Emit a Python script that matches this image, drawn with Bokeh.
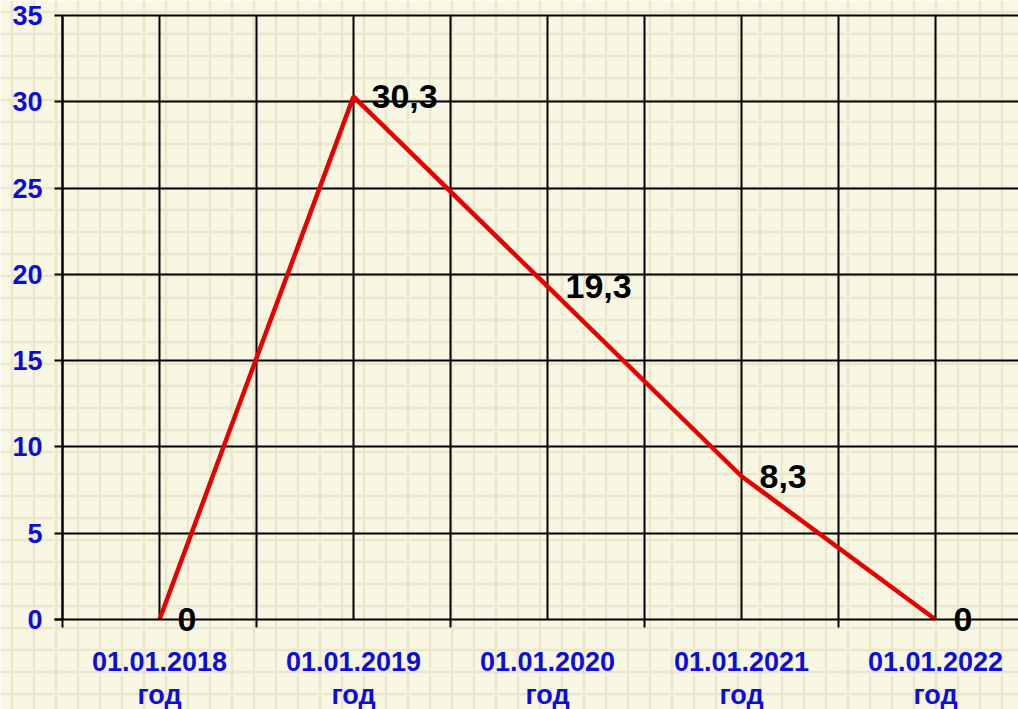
import numpy as np
from bokeh.plotting import figure
from bokeh.models import Range1d, FixedTicker, ColumnDataSource, BoxAnnotation
from bokeh.core.properties import value
from bokeh.embed import file_html
from bokeh.resources import INLINE

# ---- data ----
categories = ["01.01.2018\nгод", "01.01.2019\nгод", "01.01.2020\nгод",
              "01.01.2021\nгод", "01.01.2022\nгод"]
values = [0, 30.3, 19.3, 8.3, 0]
y_ticks = [0, 5, 10, 15, 20, 25, 30, 35]

xs = list(range(len(categories)))
labels = [f"{v:g}".replace(".", ",") for v in values]

BG = "#F8F7E3"
BLUE = "#0D0DDB"
W, H = 1018, 709
X0_PX, UNIT_X = 62, 194.0        # pixel of x=-0.5, pixels per category
Y0_PX, UNIT_Y = 619, 604 / 35.0  # pixel of y=0, pixels per unit

x_start = -0.5 - X0_PX / UNIT_X
x_end = -0.5 + (W - X0_PX) / UNIT_X
y_start = -(H - Y0_PX) / UNIT_Y
y_end = Y0_PX / UNIT_Y

p = figure(width=W, height=H, output_backend="svg", toolbar_location=None,
           x_range=Range1d(x_start, x_end), y_range=Range1d(y_start, y_end),
           min_border=0)
p.background_fill_color = BG
p.border_fill_color = BG
p.outline_line_color = None

# graph-paper texture (whole frame) as a hatch pattern
paper = BoxAnnotation(fill_alpha=0, line_alpha=0, hatch_pattern="+", hatch_scale=22,
                      hatch_weight=2.5, hatch_color="#EBE8C9", hatch_alpha=1.0,
                      level="underlay")
main_grids = list(p.center)
p.center = []
p.add_layout(paper)
for g in main_grids:
    p.add_layout(g)

# x axis, fixed at y = 0
p.xaxis.fixed_location = 0
p.xaxis.bounds = (-0.5 - 8 / UNIT_X, x_end)
p.xaxis.ticker = FixedTicker(ticks=xs, minor_ticks=[i - 0.5 for i in range(len(categories))])
p.xaxis.major_label_overrides = {i: c for i, c in enumerate(categories)}
p.xaxis.major_tick_out = 0
p.xaxis.major_tick_in = 0
p.xaxis.minor_tick_out = 8
p.xaxis.minor_tick_in = 0
p.xaxis.minor_tick_line_width = 2
p.xaxis.minor_tick_line_color = "black"
p.xaxis.axis_line_width = 2
p.xaxis.axis_line_color = "black"
p.xaxis.major_label_standoff = 19
p.xaxis.major_label_text_font = "Liberation Sans"
p.xaxis.major_label_text_font_style = "bold"
p.xaxis.major_label_text_font_size = "27px"
p.xaxis.major_label_text_color = BLUE
p.xaxis.major_label_text_line_height = 1.1

# y axis, fixed at x = -0.5
p.yaxis.fixed_location = -0.5
p.yaxis.bounds = (0, 35)
p.yaxis.ticker = FixedTicker(ticks=y_ticks, minor_ticks=[])
p.yaxis.major_tick_out = 8
p.yaxis.major_tick_in = 0
p.yaxis.major_tick_line_width = 2
p.yaxis.major_tick_line_color = "black"
p.yaxis.axis_line_width = 2
p.yaxis.axis_line_color = "black"
p.yaxis.major_label_standoff = 12
p.yaxis.major_label_text_font = "Liberation Sans"
p.yaxis.major_label_text_font_style = "bold"
p.yaxis.major_label_text_font_size = "27px"
p.yaxis.major_label_text_color = BLUE

# black grids
p.xgrid.ticker = FixedTicker(ticks=xs, minor_ticks=[i - 0.5 for i in range(len(categories))] + [4.5])
p.xgrid.grid_line_color = "black"
p.xgrid.grid_line_width = 2
p.xgrid.minor_grid_line_color = "black"
p.xgrid.minor_grid_line_width = 2
p.xgrid.bounds = (-0.4, x_end)
p.xgrid.cross_bounds = (0, 35)
p.ygrid.ticker = FixedTicker(ticks=y_ticks[1:], minor_ticks=[])
p.ygrid.grid_line_color = "black"
p.ygrid.grid_line_width = 2
p.ygrid.bounds = (0, 35)
p.ygrid.cross_bounds = (-0.5, x_end)

src = ColumnDataSource(dict(x=xs, y=values, label=labels))
p.line("x", "y", source=src, line_color="#E80000", line_width=4.5)
p.text("x", "y", text="label", source=src, x_offset=18, text_baseline="middle",
       text_align="left", text_font=value("Liberation Sans"), text_font_style="bold",
       text_font_size="34px", text_color="black")

open("out.html", "w").write(file_html(p, INLINE))
